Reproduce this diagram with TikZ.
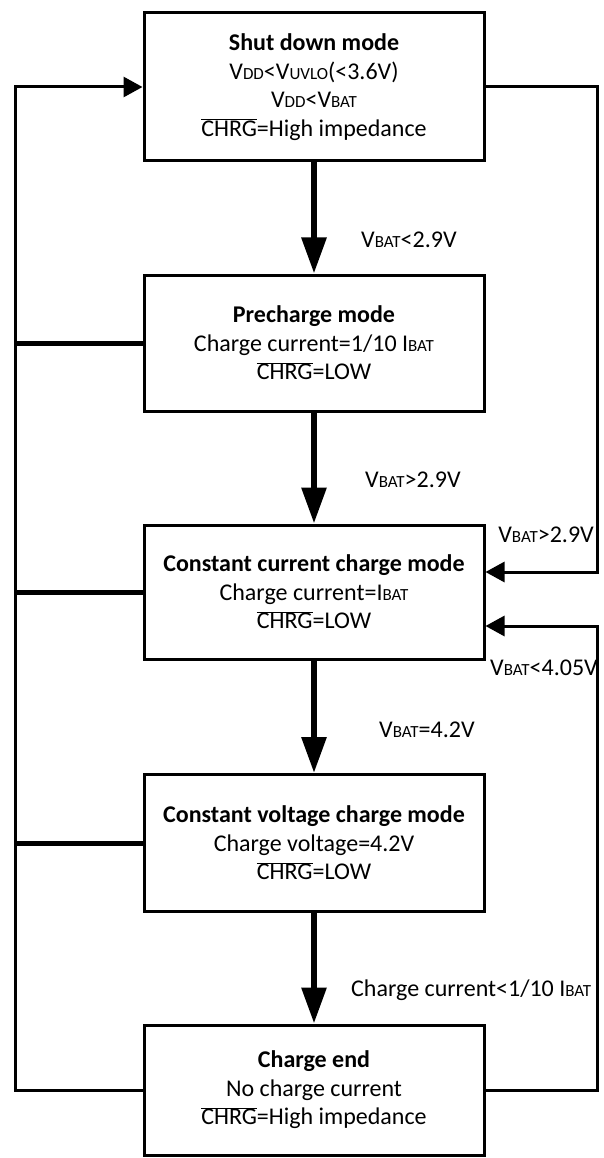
\documentclass[tikz,border=0pt]{standalone}
\usepackage{fontspec}
\setmainfont{Carlito}
\usetikzlibrary{arrows.meta}
\newcommand\subtxt[1]{{\fontsize{17}{17}\selectfont #1}}
\newcommand\notsig[1]{$\overline{\mbox{#1}}$}
\tikzset{
  modebox/.style={draw, line width=3pt, minimum width=340pt, align=center,
    inner sep=0pt, font=\fontsize{24}{28.5}\selectfont},
  steparrow/.style={line width=6pt, -{Triangle[length=36pt,width=24pt]}},
  loopline/.style={line width=3pt, line join=miter},
  looparrow/.style={loopline, -{Triangle[length=19pt,width=20pt]}},
  tieline/.style={line width=5pt},
  condlabel/.style={inner sep=0pt, font=\fontsize{24}{28.5}\selectfont}
}
\begin{document}
\begin{tikzpicture}[x=1pt, y=-1pt]
			%%%%% START %%%%%
			\useasboundingbox (0, 0) rectangle (604, 1158);
			
			\node[modebox, minimum height=148pt] (shutdown) at (314, 87)
			  {\textbf{Shut down mode}\\V\subtxt{DD}<V\subtxt{UVLO}(<3.6V)\\V\subtxt{DD}<V\subtxt{BAT}\\\notsig{CHRG}=High impedance};
			\node[modebox, minimum height=136pt] (precharge) at (314, 343)
			  {\textbf{Precharge mode}\\Charge current=1/10 I\subtxt{BAT}\\\notsig{CHRG}=LOW};
			\node[modebox, minimum height=134pt] (cccharge) at (314, 592)
			  {\textbf{Constant current charge mode}\\Charge current=I\subtxt{BAT}\\\notsig{CHRG}=LOW};
			\node[modebox, minimum height=137pt] (cvcharge) at (314, 843)
			  {\textbf{Constant voltage charge mode}\\Charge voltage=4.2V\\\notsig{CHRG}=LOW};
			\node[modebox, minimum height=130pt] (chgend) at (314, 1090)
			  {\textbf{Charge end}\\No charge current\\\notsig{CHRG}=High impedance};
			
			% main flow
			\draw[steparrow] (shutdown) -- (precharge);
			\draw[steparrow] (precharge) -- (cccharge);
			\draw[steparrow] (cccharge) -- (cvcharge);
			\draw[steparrow] (cvcharge) -- (chgend);
			
			\node[condlabel, anchor=west] (lbla) at (361, 240) {V\subtxt{BAT}<2.9V};
			\node[condlabel, anchor=west] (lblb) at (365, 480) {V\subtxt{BAT}>2.9V};
			\node[condlabel, anchor=west] (lblc) at (379, 730) {V\subtxt{BAT}=4.2V};
			\node[condlabel, anchor=west] (lbld) at (351, 990) {Charge current<1/10 I\subtxt{BAT}};
			
			% return paths
			\coordinate (lft) at (15, 600);
			\coordinate (rgta) at (597, 300);
			\coordinate (rgtb) at (597, 850);
			
			\draw[looparrow] (chgend.west) -| (lft) |- (shutdown.west);
			\draw[looparrow] (shutdown.east) -| (rgta) |- ([yshift=20pt]cccharge.east);
			\draw[looparrow] (chgend.east) -| (rgtb) |- ([yshift=-34pt]cccharge.east);
			
			\draw[tieline] (precharge.west) -- (precharge.west -| lft);
			\draw[tieline] (cccharge.west) -- (cccharge.west -| lft);
			\draw[tieline] (cvcharge.west) -- (cvcharge.west -| lft);
			
			\node[condlabel, anchor=east] (lble) at (594, 535) {V\subtxt{BAT}>2.9V};
			\node[condlabel, anchor=east] (lblf) at (598, 668) {V\subtxt{BAT}<4.05V};
			%%%%% END %%%%%
\end{tikzpicture}
\end{document}
